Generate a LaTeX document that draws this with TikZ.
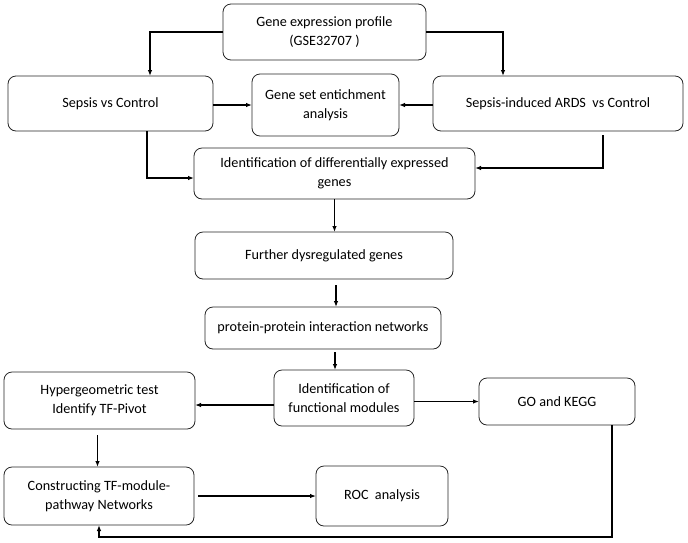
\documentclass[tikz,border=0pt]{standalone}
\usepackage{fontspec}
\setmainfont{Carlito}
\usepackage{tikz}
\usetikzlibrary{arrows.meta}

\begin{document}
\begin{tikzpicture}[x=1pt, y=-1pt,
  box/.style={draw=black!85, line width=0.8pt, rounded corners=8pt, align=center,
    inner sep=0pt, outer sep=0pt, font=\fontsize{14.2}{19.3}\selectfont},
  arr/.style={line width=1.1pt, -{Latex[length=6pt,width=4.5pt]}}]
\useasboundingbox (0,0) rectangle (688,542);

\node[box, minimum width=203pt, minimum height=56pt] (prof) at (324.5,32) {Gene expression profile\\(GSE32707 )};
\node[box, minimum width=205pt, minimum height=55pt] (sep) at (110.5,103.5) {Sepsis vs Control};
\node[box, minimum width=147pt, minimum height=62pt] (gsea) at (325.5,105) {Gene set entichment\\analysis};
\node[box, minimum width=250pt, minimum height=55pt] (ards) at (558,103.5) {Sepsis-induced ARDS\ \ vs Control};
\node[box, minimum width=281pt, minimum height=51pt] (deg) at (334.5,173.5) {Identification of differentially expressed\\genes};
\node[box, minimum width=258pt, minimum height=47pt] (dys) at (324,255.5) {Further dysregulated genes};
\node[box, minimum width=236pt, minimum height=42pt] (ppi) at (323,328) {protein-protein interaction networks};
\node[box, minimum width=140pt, minimum height=56pt] (mod) at (344,398) {Identification of\\functional modules};
\node[box, minimum width=191pt, minimum height=57pt] (hyp) at (99.5,400.5) {Hypergeometric test\\Identify TF-Pivot};
\node[box, minimum width=156pt, minimum height=47pt] (gokegg) at (557,401.5) {GO and KEGG};
\node[box, minimum width=190pt, minimum height=58pt] (net) at (99,496) {Constructing TF-module-\\pathway Networks};
\node[box, minimum width=132pt, minimum height=60pt] (roc) at (382,496) {ROC\ \ analysis};

\draw[arr] (prof.west) -| ([xshift=39.5pt]sep.north);
\draw[arr] (prof.east) -| ([xshift=-55pt]ards.north);
\draw[arr] (sep.east |- gsea.west) -- (gsea.west);
\draw[arr] (ards.west |- gsea.east) -- (gsea.east);
\draw[arr] ([xshift=36.5pt]sep.south) |- ([yshift=-4.5pt]deg.west);
\draw[arr, shorten <=4pt] ([xshift=45pt]ards.south) |- ([yshift=5.5pt]deg.east);
\draw[arr] (deg.south) -- (deg.south |- dys.north);
\draw[arr, shorten <=6pt] ([xshift=12pt]dys.south) -- ([xshift=12pt]dys.south |- ppi.north);
\draw[arr, shorten <=3pt] ([xshift=12pt]ppi.south) -- ([xshift=12pt]ppi.south |- mod.north);
\draw[arr] ([yshift=-7pt]mod.west) -- ([yshift=-7pt]mod.west -| hyp.east);
\draw[arr] (mod.east |- gokegg.west) -- (gokegg.west);
\draw[arr, shorten <=6pt] ([xshift=-2pt]hyp.south) -- ([xshift=-2pt]hyp.south |- net.north);
\draw[arr] ([xshift=4pt]net.east) -- (roc.west);
\draw[arr] ([xshift=55pt]gokegg.south) |- ([yshift=-12pt]net.south) -- (net.south);
\end{tikzpicture}
\end{document}
